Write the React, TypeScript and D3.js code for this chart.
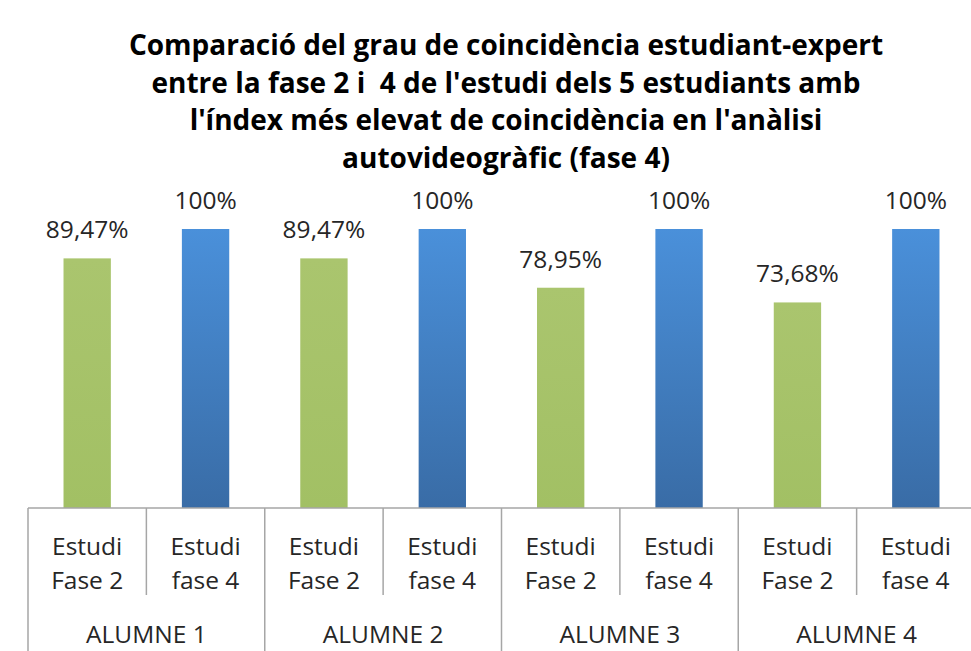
import * as d3 from "d3";

const groups = ["ALUMNE 1", "ALUMNE 2", "ALUMNE 3", "ALUMNE 4"];
const phaseLabels = [
  ["Estudi", "Fase 2"],
  ["Estudi", "fase 4"],
];
const fase2 = [89.47, 89.47, 78.95, 73.68];
const fase4 = [100, 100, 100, 100];
const titleLines = [
  "Comparació del grau de coincidència estudiant-expert",
  "entre la fase 2 i  4 de l'estudi dels 5 estudiants amb",
  "l'índex més elevat de coincidència en l'anàlisi",
  "autovideogràfic (fase 4)",
];

const W = 971;
const H = 651;
const font = "'Open Sans', 'DejaVu Sans', sans-serif";
const fs = 24.5;

type Bar = { key: string; group: number; phase: number; value: number };

const bars: Bar[] = groups.flatMap((g, i) => [
  { key: `${g}-2`, group: i, phase: 0, value: fase2[i] },
  { key: `${g}-4`, group: i, phase: 1, value: fase4[i] },
]);

const fmt = (v: number) => (Number.isInteger(v) ? `${v}%` : `${v.toFixed(2).replace(".", ",")}%`);

export default function App() {
  const x = d3
    .scaleBand<string>()
    .domain(bars.map((b) => b.key))
    .range([28, 975])
    .padding(0);
  const y = d3.scaleLinear().domain([0, 100]).range([508, 229]);
  const bw = x.bandwidth() * 0.4;
  const axisY = y(0);
  const groupW = x.bandwidth() * 2;

  return (
    <div style={{ position: "absolute", left: 0, top: 0 }}>
      <svg width={W} height={H} style={{ display: "block", background: "#fff" }}>
        <defs>
          <linearGradient id="gGreen" x1="0" y1="0" x2="0" y2="1">
            <stop offset="0" stopColor="#aac56e" />
            <stop offset="1" stopColor="#a2c064" />
          </linearGradient>
          <linearGradient id="gBlue" x1="0" y1="0" x2="0" y2="1">
            <stop offset="0" stopColor="#4a90da" />
            <stop offset="1" stopColor="#396ca6" />
          </linearGradient>
        </defs>

        <g fontFamily={font} fontWeight="bold" fontSize={28} fill="#000" textAnchor="middle">
          {titleLines.map((t, i) => (
            <text key={i} x={506} y={55 + i * 37.5} style={{ whiteSpace: "pre" }}>
              {t}
            </text>
          ))}
        </g>

        {bars.map((b) => {
          const cx = (x(b.key) ?? 0) + x.bandwidth() / 2;
          return (
            <g key={b.key}>
              <rect
                x={cx - bw / 2}
                y={y(b.value)}
                width={bw}
                height={axisY - y(b.value)}
                fill={b.phase === 0 ? "url(#gGreen)" : "url(#gBlue)"}
              />
              <text
                x={cx}
                y={y(b.value) - 20}
                textAnchor="middle"
                fontFamily={font}
                fontSize={fs}
                fill="#262626"
              >
                {fmt(b.value)}
              </text>
              <text x={cx} textAnchor="middle" fontFamily={font} fontSize={fs} fill="#262626">
                <tspan x={cx} y={555}>
                  {phaseLabels[b.phase][0]}
                </tspan>
                <tspan x={cx} y={589}>
                  {phaseLabels[b.phase][1]}
                </tspan>
              </text>
              {b.phase === 1 && (
                <line
                  x1={x(b.key) ?? 0}
                  x2={x(b.key) ?? 0}
                  y1={axisY}
                  y2={595}
                  stroke="#a6a6a6"
                  strokeWidth={1.5}
                />
              )}
            </g>
          );
        })}

        {groups.map((g, i) => {
          const gx = x(`${g}-2`) ?? 0;
          return (
            <g key={g}>
              <line x1={gx} x2={gx} y1={axisY} y2={H} stroke="#a6a6a6" strokeWidth={1.5} />
              <text
                x={gx + groupW / 2}
                y={643}
                textAnchor="middle"
                fontFamily={font}
                fontSize={fs}
                fill="#262626"
              >
                {g}
              </text>
            </g>
          );
        })}
        <line x1={x.range()[1]} x2={x.range()[1]} y1={axisY} y2={H} stroke="#a6a6a6" strokeWidth={1.5} />
        <line x1={x.range()[0]} x2={x.range()[1]} y1={axisY} y2={axisY} stroke="#a6a6a6" strokeWidth={1.5} />
      </svg>
    </div>
  );
}
